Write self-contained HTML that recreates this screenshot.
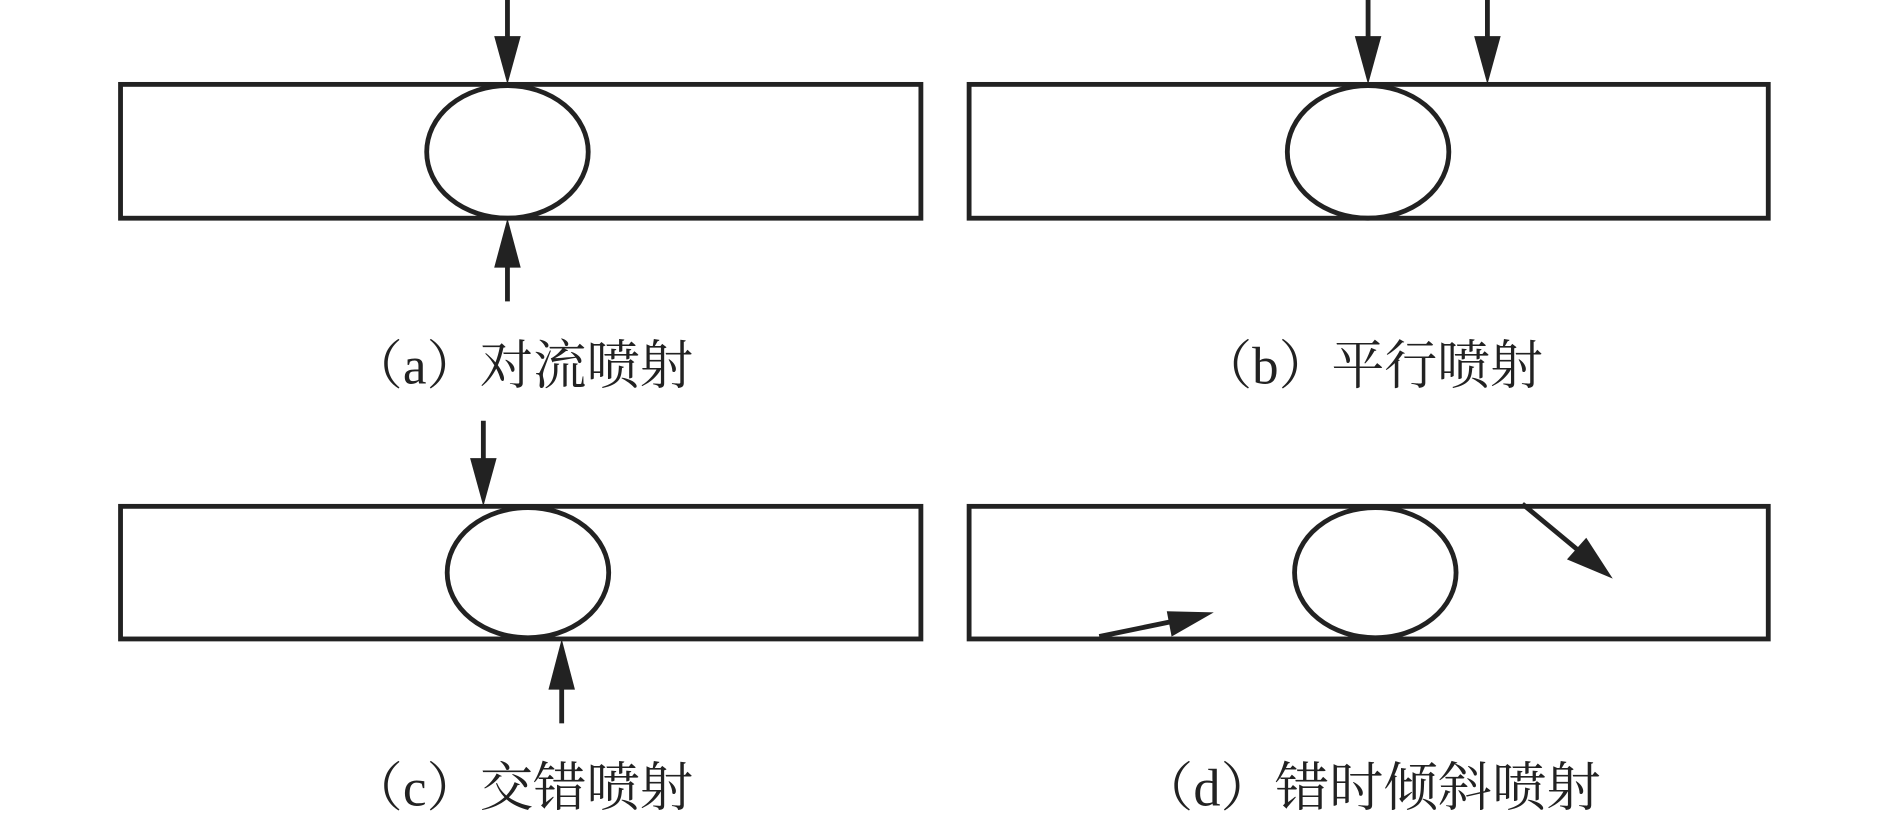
<!DOCTYPE html>
<html><head><meta charset="utf-8"><style>
html,body{margin:0;padding:0;background:#fff;}
svg{display:block;}
text{font-family:"Liberation Serif","Noto Serif CJK SC",serif;font-size:44px;fill:#222;}
</style></head><body>
<svg width="1890" height="821" viewBox="0 0 1568 681" preserveAspectRatio="none" xmlns="http://www.w3.org/2000/svg">
<defs>
<marker id="ah" markerWidth="10" markerHeight="10" refX="10" refY="5" orient="auto" markerUnits="userSpaceOnUse" viewBox="0 0 10 10">
</marker>
</defs>
<g fill="none" stroke="#222" stroke-width="4">
<rect x="100" y="70" width="664" height="111"/>
<ellipse cx="421" cy="126" rx="67" ry="55"/>
<rect x="804" y="70" width="663" height="111"/>
<ellipse cx="1135" cy="126" rx="67" ry="55"/>
<rect x="100" y="420" width="664" height="110"/>
<ellipse cx="438" cy="475" rx="67" ry="54"/>
<rect x="804" y="420" width="663" height="110"/>
<ellipse cx="1141" cy="475" rx="67" ry="54"/>
<line x1="421" y1="0" x2="421" y2="40"/>
<line x1="421" y1="250" x2="421" y2="215"/>
<line x1="1135" y1="0" x2="1135" y2="40"/>
<line x1="1234" y1="0" x2="1234" y2="40"/>
<line x1="401" y1="349" x2="401" y2="385"/>
<line x1="466" y1="600" x2="466" y2="565"/>
<line x1="912" y1="528" x2="975" y2="515"/>
<line x1="1263" y1="418" x2="1310" y2="457"/>
</g>
<g fill="#222">
<polygon points="410,30 432,30 421,70"/>
<polygon points="410,222 432,222 421,181"/>
<polygon points="1124,30 1146,30 1135,70"/>
<polygon points="1223,30 1245,30 1234,70"/>
<polygon points="390,380 412,380 401,420"/>
<polygon points="455,572 477,572 466,530"/>
<polygon points="1007,508 968,507 972,528"/>
<polygon points="1338,480 1300,464 1316,446"/>
</g>
<text x="290" y="318" textLength="285" lengthAdjust="spacingAndGlyphs">（a）对流喷射</text>
<text x="995" y="318" textLength="285" lengthAdjust="spacingAndGlyphs">（b）平行喷射</text>
<text x="290" y="668" textLength="285" lengthAdjust="spacingAndGlyphs">（c）交错喷射</text>
<text x="945" y="668" textLength="383" lengthAdjust="spacingAndGlyphs">（d）错时倾斜喷射</text>
</svg>
</body></html>
